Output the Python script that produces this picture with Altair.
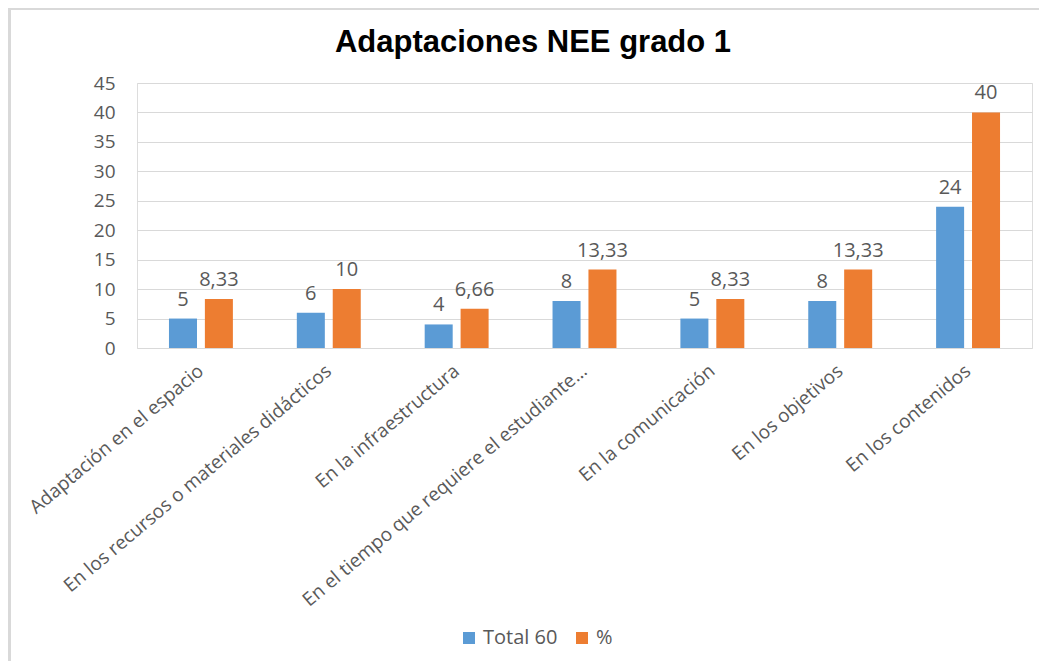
import altair as alt
import pandas as pd

categories = [
    "Adaptación en el espacio",
    "En los recursos o materiales didácticos",
    "En la infraestructura",
    "En el tiempo que requiere el estudiante…",
    "En la comunicación",
    "En los objetivos",
    "En los contenidos",
]
series_names = ["Total 60", "%"]
total_values = [5, 6, 4, 8, 5, 8, 24]
pct_values = [8.33, 10, 6.66, 13.33, 8.33, 13.33, 40]
y_ticks = [0, 5, 10, 15, 20, 25, 30, 35, 40, 45]
chart_title = "Adaptaciones NEE grado 1"


def fmt(v):
    s = f"{v:.2f}".rstrip("0").rstrip(".")
    return s.replace(".", ",")


rows = []
for c, t, p in zip(categories, total_values, pct_values):
    rows.append({"cat": c, "serie": series_names[0], "valor": t, "etiqueta": fmt(t)})
    rows.append({"cat": c, "serie": series_names[1], "valor": p, "etiqueta": fmt(p)})
df = pd.DataFrame(rows)

GRAY = "#595959"
FONT = "Open Sans"

x_enc = alt.X(
    "cat:N",
    sort=categories,
    scale=alt.Scale(paddingInner=0.5, paddingOuter=0.25),
    axis=alt.Axis(
        title=None,
        labelAngle=-40,
        labelAlign="right",
        labelBaseline="middle",
        labelFont=FONT,
        labelFontSize=19,
        labelColor=GRAY,
        labelLimit=500,
        labelPadding=20,
        ticks=False,
        domain=False,
    ),
)
xoff_enc = alt.XOffset(
    "serie:N", sort=series_names, scale=alt.Scale(paddingInner=0.22, paddingOuter=0)
)
y_enc = alt.Y(
    "valor:Q",
    scale=alt.Scale(domain=[0, 45], nice=False),
    axis=alt.Axis(
        title=None,
        values=y_ticks,
        tickCount=10,
        labelOverlap=False,
        labelFont=FONT,
        labelFontSize=19,
        labelColor=GRAY,
        labelPadding=22,
        ticks=False,
        domain=False,
        grid=True,
        gridColor="#d9d9d9",
        gridWidth=1.2,
    ),
)
color_enc = alt.Color(
    "serie:N",
    sort=series_names,
    scale=alt.Scale(domain=series_names, range=["#5B9BD5", "#ED7D31"]),
    legend=alt.Legend(
        title=None,
        orient="none",
        direction="horizontal",
        legendX=322,
        legendY=545,
        symbolType="square",
        symbolSize=144,
        symbolStrokeWidth=0,
        labelFont=FONT,
        labelFontSize=20,
        labelColor=GRAY,
        columnPadding=14,
        symbolOffset=0,
        labelOffset=4,
    ),
)

base = alt.Chart(df)
bars = base.mark_bar().encode(x=x_enc, xOffset=xoff_enc, y=y_enc, color=color_enc)
labels = base.mark_text(
    font=FONT, fontSize=20, color=GRAY, baseline="alphabetic", dy=-13
).encode(x=x_enc, xOffset=xoff_enc, y="valor:Q", text="etiqueta:N")

frame = alt.Chart(alt.Data(values=[{"t": chart_title}]))
left_line = frame.mark_rule(color="#d9d9d9", strokeWidth=3).encode(
    x=alt.value(-127.5), y=alt.value(-75), y2=alt.value(600)
)
top_line = frame.mark_rule(color="#d9d9d9", strokeWidth=3).encode(
    x=alt.value(-129), x2=alt.value(910), y=alt.value(-74.5)
)
title = frame.mark_text(
    font="Liberation Sans",
    fontSize=31,
    fontWeight="bold",
    color="#000000",
    align="center",
    baseline="alphabetic",
).encode(x=alt.value(396), y=alt.value(-31), text="t:N")

chart = (
    alt.layer(left_line, top_line, title, bars, labels)
    .properties(
        width=895,
        height=265,
        autosize=alt.AutoSizeParams(type="none"),
        padding={"left": 129, "top": 75, "right": 7, "bottom": 313},
    )
    .configure_view(stroke=None)
    .configure(background="white")
)

chart.save("out.html", embed_options={"renderer": "svg", "actions": False})
